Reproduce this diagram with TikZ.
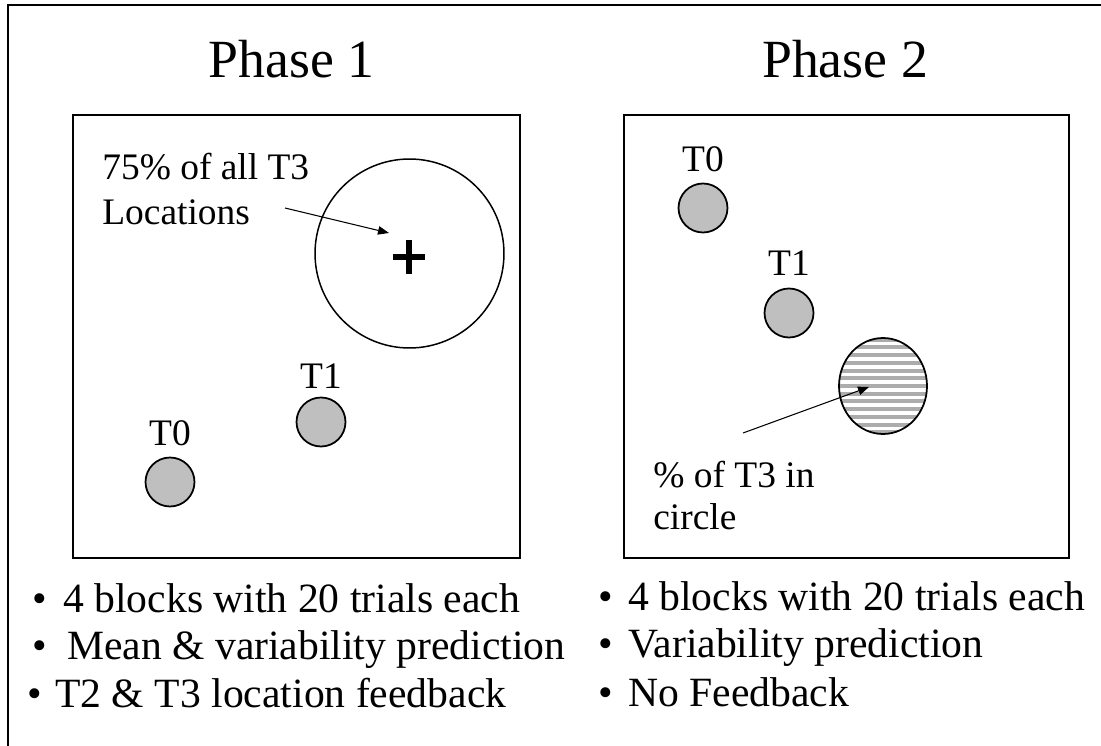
\documentclass[tikz,border=0pt]{standalone}
\usepackage{fontspec}
\setmainfont{Liberation Serif}
\usetikzlibrary{arrows.meta,positioning,shapes.geometric}

\begin{document}
\begin{tikzpicture}[
	x = 0.02cm, y = -0.02cm, % one unit = one pixel, y downwards
	> = {Triangle[length=0.22cm, width=0.17cm]}, % arrow head style
	shorten > = 0pt,
	Ttl/.style={inner sep=0pt, anchor=base, font=\fontsize{30.6}{36}\selectfont},
	Lbl/.style={inner sep=0pt, font=\fontsize{21.3}{25}\selectfont},
	Blt/.style={inner sep=0pt, anchor=base west, font=\fontsize{23.7}{28}\selectfont},
	Box/.style={rectangle, draw=black, line width=1.1pt, inner sep=0pt},
	Tgt/.style={circle, draw=black, fill=gray!50, line width=1pt, inner sep=0pt, minimum size=0.98cm},
	Ring/.style={circle, draw=black, line width=0.85pt, inner sep=0pt, minimum size=3.78cm},
	Hat/.style={ellipse, draw=black, line width=1pt, inner sep=0pt, minimum width=1.76cm, minimum height=1.92cm,
		path picture={\foreach \k in {-6,...,6}
			\fill[gray!65] ([yshift=\k*0.155cm-0.04cm]path picture bounding box.west) rectangle ([yshift=\k*0.155cm+0.04cm]path picture bounding box.east);}},
	Ptr/.style={->, line width=0.6pt},
	]
	\useasboundingbox (0,0) rectangle (1101,746);

	% outer frame (only top and left edge show)
	\draw[line width=1pt] (1101,5) -- (8,5) -- (8,746);

	% Titles and panels
	\node[Ttl] (P1) at (291.5,78) {Phase 1};
	\node[Ttl] (P2) at (845,78) {Phase 2};
	\node[Box, minimum width=8.94cm, minimum height=8.86cm] (B1) at (296.5,336.5) {};
	\node[Box, minimum width=8.90cm, minimum height=8.86cm] (B2) at (846.5,336.5) {};

	% Phase 1: targets and region
	\node[Ring] (R1) at (409.5,253.5) {};
	\draw[line width=3.2pt] (392.5,257) -- (425,257) (408.7,240) -- (408.7,274);
	\node[Tgt] (A0) at (170,482) {};
	\node[Tgt] (A1) at (321,422) {};
	\node[Lbl] (LA0) [above=0.2cm of A0] {T0};
	\node[Lbl] (LA1) [above=0.16cm of A1] {T1};
	\node[Lbl, anchor=base west] (N1) at (102,180) {75\% of all T3};
	\node[Lbl, anchor=base west] (N2) at ([yshift=-0.9cm]N1.base west) {Locations};

	% Phase 2: targets and circle
	\node[Tgt] (C0) at (703,208) {};
	\node[Tgt] (C1) at (789,313) {};
	\node[Lbl] (LC0) [above=0.21cm of C0] {T0};
	\node[Lbl] (LC1) [above=0.23cm of C1] {T1};
	\node[Hat] (H) at (883,386) {};
	\node[Lbl, anchor=base west] (M1) at (653,487) {\% of T3 in};
	\node[Lbl, anchor=base west] (M2) at ([yshift=-0.86cm]M1.base west) {circle};

	% Paths connecting pointers
	\coordinate (a1) at (285,208);
	\coordinate (h1) at (389,233);
	\coordinate (a2) at (743,433);
	\coordinate (h2) at ([xshift=-0.28cm,yshift=-0.02cm]H.center);
	\draw[Ptr] (a1) -- (h1);
	\draw[Ptr] (a2) -- (h2);

	% Bullet lists
	\node[Blt] (L1) at (31.7,612) {\textbullet\hspace{9.5pt}4 blocks with 20 trials each};
	\node[Blt] (L2) at ([yshift=-0.96cm]L1.base west) {\textbullet\hspace{11.7pt}Mean \& variability prediction};
	\node[Blt] (L3) at ([xshift=-0.1cm,yshift=-0.96cm]L2.base west) {\textbullet\hspace{7.8pt}T2 \& T3 location feedback};
	\node[Blt] (R1b) at (597.7,610) {\textbullet\hspace{8.9pt}4 blocks with 20 trials each};
	\node[Blt] (R2b) at ([yshift=-0.96cm]R1b.base west) {\textbullet\hspace{8.9pt}Variability prediction};
	\node[Blt] (R3b) at ([yshift=-0.98cm]R2b.base west) {\textbullet\hspace{8.9pt}No Feedback};

\end{tikzpicture}
\end{document}
